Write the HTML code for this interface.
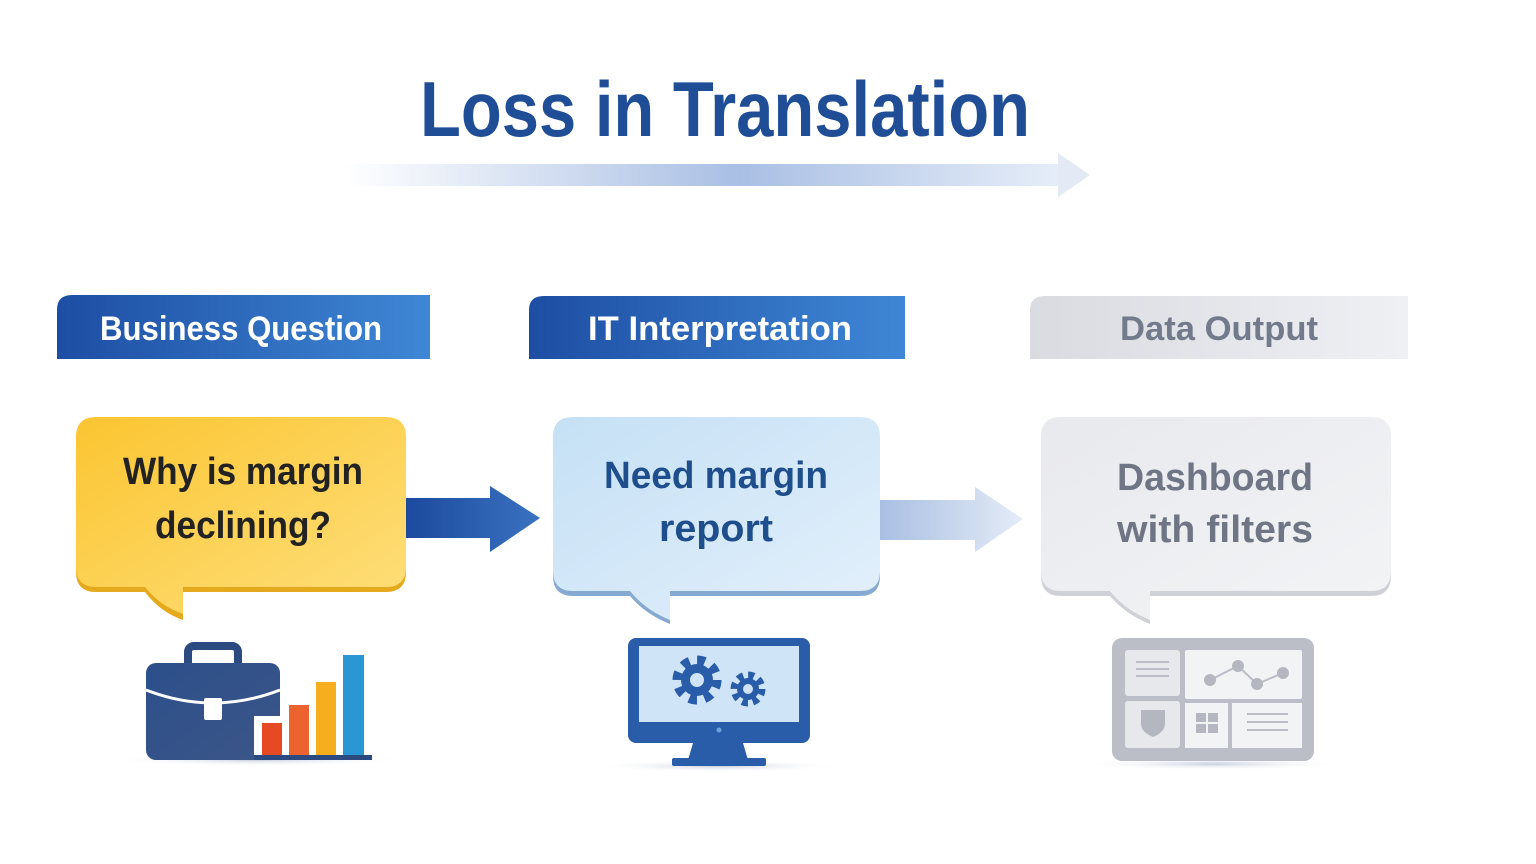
<!DOCTYPE html>
<html><head><meta charset="utf-8"><style>
html,body{margin:0;padding:0;background:#fff;width:1536px;height:864px;overflow:hidden}
text{font-family:"Liberation Sans",sans-serif;font-weight:bold}
</style></head><body>
<svg width="1536" height="864" viewBox="0 0 1536 864" xmlns="http://www.w3.org/2000/svg">
<defs>
<linearGradient id="ga" x1="0" x2="1"><stop offset="0" stop-color="#fff"/><stop offset="0.55" stop-color="#a9bfe4"/><stop offset="1" stop-color="#e6edf8"/></linearGradient>
<linearGradient id="hb" x1="0" x2="1"><stop offset="0" stop-color="#1d4ea3"/><stop offset="1" stop-color="#3f87d6"/></linearGradient>
<linearGradient id="hg" x1="0" x2="1"><stop offset="0" stop-color="#d9dbe0"/><stop offset="1" stop-color="#eef0f4"/></linearGradient>
<linearGradient id="by" x1="0" y1="0" x2="1" y2="1"><stop offset="0" stop-color="#fbc531"/><stop offset="1" stop-color="#fedf7c"/></linearGradient>
<linearGradient id="bb" x1="0" y1="0" x2="1" y2="1"><stop offset="0" stop-color="#c5e0f5"/><stop offset="1" stop-color="#e3f0fb"/></linearGradient>
<linearGradient id="bg" x1="0" y1="0" x2="1" y2="1"><stop offset="0" stop-color="#e8e9ed"/><stop offset="1" stop-color="#f3f4f6"/></linearGradient>
<linearGradient id="a1" x1="0" x2="1"><stop offset="0" stop-color="#1c4a9e"/><stop offset="1" stop-color="#3a72c0"/></linearGradient>
<linearGradient id="a2" x1="0" x2="1"><stop offset="0" stop-color="#a9bfe2"/><stop offset="1" stop-color="#e4ecf7"/></linearGradient>
<linearGradient id="bc" x1="0" y1="0" x2="1" y2="1"><stop offset="0" stop-color="#2c4f8a"/><stop offset="1" stop-color="#3c5688"/></linearGradient>
<radialGradient id="sh"><stop offset="0" stop-color="#c8cfdc"/><stop offset="1" stop-color="#fff" stop-opacity="0"/></radialGradient>
</defs>

<text x="420" y="136" font-size="78" fill="#1f4e97" textLength="610" lengthAdjust="spacingAndGlyphs">Loss in Translation</text>
<rect x="345" y="164" width="716" height="22" fill="url(#ga)"/>
<polygon points="1058,153 1090,175 1058,197" fill="#e3eaf6"/>

<path d="M57,310 Q57,295 72,295 H430 V359 H57 Z" fill="url(#hb)"/>
<text x="100" y="340" font-size="34" fill="#fff" textLength="282" lengthAdjust="spacingAndGlyphs">Business Question</text>
<path d="M529,310 Q529,296 544,296 H905 V359 H529 Z" fill="url(#hb)"/>
<text x="588" y="340" font-size="34" fill="#fff" textLength="264" lengthAdjust="spacingAndGlyphs">IT Interpretation</text>
<path d="M1030,310 Q1030,296 1045,296 H1408 V359 H1030 Z" fill="url(#hg)"/>
<text x="1120" y="340" font-size="34" fill="#737a8b" textLength="198" lengthAdjust="spacingAndGlyphs">Data Output</text>

<!-- bubble 1 -->
<path d="M96,421 H386 Q406,421 406,441 V572 Q406,592 386,592 H183 V620 Q160,612 145,592 H96 Q76,592 76,572 V441 Q76,421 96,421Z" fill="#e4a91c"/>
<path d="M96,417 H386 Q406,417 406,437 V567 Q406,587 386,587 H183 V614 Q160,606 145,587 H96 Q76,587 76,567 V437 Q76,417 96,417Z" fill="url(#by)"/>
<text x="243" y="484" font-size="38" fill="#222" text-anchor="middle" textLength="240" lengthAdjust="spacingAndGlyphs">Why is margin</text>
<text x="243" y="538" font-size="38" fill="#222" text-anchor="middle" textLength="176" lengthAdjust="spacingAndGlyphs">declining?</text>

<polygon points="406,498 490,498 490,486 540,518 490,552 490,538 406,538" fill="url(#a1)"/>

<!-- bubble 2 -->
<path d="M573,421 H860 Q880,421 880,441 V576 Q880,596 860,596 H670 V624 Q645,614 630,596 H573 Q553,596 553,576 V441 Q553,421 573,421Z" fill="#86a9d2"/>
<path d="M573,417 H860 Q880,417 880,437 V571 Q880,591 860,591 H670 V620 Q645,610 630,591 H573 Q553,591 553,571 V437 Q553,417 573,417Z" fill="url(#bb)"/>
<text x="716" y="488" font-size="38" fill="#1f4e8c" text-anchor="middle" textLength="224" lengthAdjust="spacingAndGlyphs">Need margin</text>
<text x="716" y="541" font-size="38" fill="#1f4e8c" text-anchor="middle" textLength="114" lengthAdjust="spacingAndGlyphs">report</text>

<polygon points="880,500 975,500 975,487 1023,519 975,552 975,540 880,540" fill="url(#a2)"/>

<!-- bubble 3 -->
<path d="M1061,421 H1371 Q1391,421 1391,441 V576 Q1391,596 1371,596 H1150 V624 Q1125,614 1110,596 H1061 Q1041,596 1041,576 V441 Q1041,421 1061,421Z" fill="#cfd1d7"/>
<path d="M1061,417 H1371 Q1391,417 1391,437 V571 Q1391,591 1371,591 H1150 V620 Q1125,610 1110,591 H1061 Q1041,591 1041,571 V437 Q1041,417 1061,417Z" fill="url(#bg)"/>
<text x="1215" y="490" font-size="38" fill="#6f7584" text-anchor="middle" textLength="196" lengthAdjust="spacingAndGlyphs">Dashboard</text>
<text x="1215" y="542" font-size="38" fill="#6f7584" text-anchor="middle" textLength="196" lengthAdjust="spacingAndGlyphs">with filters</text>

<!-- briefcase -->
<ellipse cx="258" cy="760" rx="150" ry="6" fill="url(#sh)"/>
<rect x="188" y="646" width="50" height="26" rx="6" fill="none" stroke="#2b4a80" stroke-width="8"/>
<rect x="146" y="663" width="134" height="97" rx="10" fill="url(#bc)"/>
<path d="M146,690 Q213,716 280,690" fill="none" stroke="#fff" stroke-width="3"/>
<rect x="204" y="698" width="18" height="22" rx="2" fill="#fff"/>
<rect x="254" y="716" width="118" height="44" fill="#fff"/>
<rect x="262" y="723" width="20" height="33" fill="#e54a22"/>
<rect x="289" y="705" width="20" height="51" fill="#ec6330"/>
<rect x="316" y="682" width="20" height="74" fill="#f6ae1e"/>
<rect x="343" y="655" width="21" height="101" fill="#2a97d4"/>
<rect x="254" y="755" width="118" height="5" fill="#2c4a80"/>

<!-- monitor -->
<ellipse cx="718" cy="766" rx="125" ry="6" fill="url(#sh)"/>
<rect x="628" y="638" width="182" height="105" rx="8" fill="#2a5da9"/>
<rect x="639" y="646" width="160" height="76" fill="#cfe4f6"/>
<circle cx="719" cy="730" r="2.5" fill="#6aa3df"/>
<polygon points="693,743 743,743 748,760 688,760" fill="#2a5da9"/>
<rect x="672" y="758" width="94" height="8" rx="2" fill="#2a5da9"/>
<circle cx="697" cy="680" r="20" fill="none" stroke="#2a5da9" stroke-width="9" stroke-dasharray="8,7.7"/>
<circle cx="697" cy="680" r="16" fill="#2a5da9"/><circle cx="697" cy="680" r="7" fill="#cfe4f6"/>
<circle cx="748" cy="689" r="14" fill="none" stroke="#2a5da9" stroke-width="7" stroke-dasharray="6,5"/>
<circle cx="748" cy="689" r="11" fill="#2a5da9"/><circle cx="748" cy="689" r="5" fill="#cfe4f6"/>

<!-- dashboard -->
<ellipse cx="1213" cy="764" rx="135" ry="6" fill="url(#sh)"/>
<rect x="1112" y="638" width="202" height="123" rx="10" fill="#bbbec6"/>
<rect x="1125" y="650" width="55" height="46" rx="3" fill="#e7e8ec"/>
<rect x="1185" y="650" width="117" height="49" rx="2" fill="#f2f3f5"/>
<rect x="1125" y="701" width="55" height="47" rx="3" fill="#e7e8ec"/>
<rect x="1185" y="703" width="43" height="45" fill="#f2f3f5"/>
<rect x="1232" y="703" width="70" height="45" fill="#f2f3f5"/>
<g stroke="#bbbec6" stroke-width="2"><line x1="1136" y1="662" x2="1169" y2="662"/><line x1="1136" y1="669" x2="1169" y2="669"/><line x1="1136" y1="676" x2="1169" y2="676"/>
<line x1="1247" y1="714" x2="1288" y2="714"/><line x1="1247" y1="722" x2="1288" y2="722"/><line x1="1247" y1="730" x2="1288" y2="730"/>
<polyline points="1210,680 1238,666 1257,684 1283,673" fill="none"/></g>
<g fill="#b4b7bf"><circle cx="1210" cy="680" r="6"/><circle cx="1238" cy="666" r="6"/><circle cx="1257" cy="684" r="6"/><circle cx="1283" cy="673" r="6"/>
<path d="M1141,710 H1165 V724 Q1165,732 1153,737 Q1141,732 1141,724Z"/>
<rect x="1196" y="713" width="10" height="9"/><rect x="1208" y="713" width="10" height="9"/><rect x="1196" y="724" width="10" height="9"/><rect x="1208" y="724" width="10" height="9"/></g>
</svg>
</body></html>
